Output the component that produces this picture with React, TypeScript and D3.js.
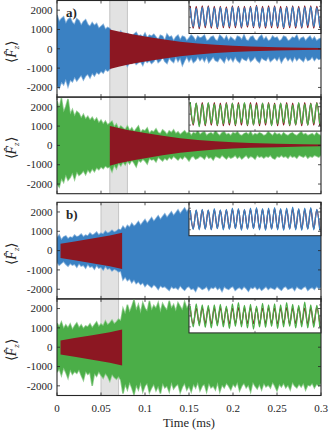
import React from "react";
import * as d3 from "d3";

const W = 331;
const H = 431;

// sampling grid of the noise envelopes (ms), 0.0025 ms apart
const T_NOISE = d3.range(121).map((i) => i * 0.0025);

// panel a) top: blue noise envelope
const A1_HI = [
  1750, 1400, 1550, 1650, 1300, 1500, 1600, 1350, 1250, 1550,
  1450, 1200, 1400, 1500, 1250, 1150, 1350, 1200, 1300, 1050,
  1150, 1250, 1000, 1100, 1050,
  850, 700, 800, 650, 900, 750, 650, 800, 700, 600,
  750, 850, 650, 700, 600, 800, 550, 700, 650, 750,
  600, 450, 700, 650, 400, 750, 600, 650, 400, 600,
  700, 450, 650, 600, 400, 550, 700, 600, 400, 650,
  550, 600, 700, 400, 450, 600, 650, 450, 400, 700,
  600, 450, 650, 400, 600, 500, 400, 650, 600, 450,
  700, 450, 400, 600, 650, 450, 400, 600, 700, 450,
  600, 400, 450, 650, 550, 600, 400, 450, 650, 600,
  400, 450, 600, 550, 700, 400, 550, 600, 400, 550,
  650, 450, 600, 400, 500, 550,
];
const A1_LO = [
  -1900, -2050, -1700, -1850, -1550, -1950, -1600, -1700, -1450, -1650,
  -1500, -1350, -1600, -1400, -1300, -1500, -1250, -1400, -1200, -1300,
  -1150, -1250, -1050, -1150, -1050,
  -900, -700, -850, -750, -650, -800, -700, -900, -650, -750,
  -600, -800, -700, -650, -850, -550, -700, -600, -750, -650,
  -450, -700, -600, -400, -650, -750, -450, -600, -700, -400,
  -650, -450, -850, -600, -400, -650, -450, -700, -600, -400,
  -600, -450, -650, -400, -700, -550, -400, -600, -650, -450,
  -550, -700, -400, -600, -450, -650, -400, -600, -700, -450,
  -550, -600, -400, -650, -550, -400, -600, -700, -450, -550,
  -600, -400, -650, -550, -450, -600, -400, -700, -500, -400,
  -600, -450, -650, -400, -600, -450, -550, -650, -400, -600,
  -550, -400, -600, -450, -550, -500,
];
// panel a) bottom: green noise envelope
const A2_HI = [
  2300, 1900, 2450, 1700, 2000, 2400, 1600, 1850, 1500, 1750,
  1650, 1400, 1600, 1350, 1500, 1300, 1450, 1250, 1400, 1150,
  1300, 1100, 1250, 1050, 1150,
  1250, 950, 1100, 850, 1000, 900, 800, 1000, 750, 900,
  700, 850, 1000, 650, 800, 750, 900, 600, 750, 700,
  850, 650, 600, 800, 700, 550, 750, 650, 800, 600,
  700, 550, 650, 750, 600, 700, 500, 650, 600, 750,
  550, 650, 700, 500, 600, 650, 550, 750, 600, 500,
  650, 700, 550, 600, 500, 650, 600, 700, 550, 500,
  600, 650, 550, 700, 500, 600, 550, 650, 600, 500,
  550, 700, 600, 500, 650, 550, 600, 500, 650, 550,
  500, 600, 650, 550, 500, 600, 700, 550, 600, 500,
  550, 600, 500, 650, 550, 500,
];
const A2_LO = [
  -2000, -2150, -1700, -1900, -1500, -1800, -1650, -1400, -1750, -1350,
  -1550, -1450, -1300, -1500, -1250, -1400, -1200, -1350, -1150, -1250,
  -1100, -1200, -1050, -1150, -1100,
  -1350, -1000, -1200, -900, -1050, -850, -1000, -800, -950, -750,
  -900, -1100, -750, -850, -700, -800, -950, -650, -750, -700,
  -850, -600, -700, -800, -650, -750, -600, -700, -550, -650,
  -750, -600, -700, -550, -650, -800, -600, -550, -700, -650,
  -550, -600, -700, -500, -650, -600, -750, -550, -600, -650,
  -500, -600, -700, -550, -650, -600, -500, -650, -550, -700,
  -600, -500, -650, -550, -600, -700, -500, -600, -550, -650,
  -550, -600, -500, -650, -700, -550, -600, -500, -600, -550,
  -650, -500, -600, -550, -650, -500, -550, -600, -500, -650,
  -550, -600, -500, -550, -600, -500,
];
// panel b) top: blue noise envelope
const B1_HI = [
  650, 800, 550, 700, 750, 600, 700, 650, 800, 700,
  750, 850, 700, 800, 750, 900, 800, 850, 950, 800,
  900, 850, 1000, 900, 950, 1050, 950, 1000, 1100,
  1050, 1250, 1100, 1300, 1200, 1400, 1250, 1350, 1500, 1300,
  1450, 1600, 1400, 1550, 1700, 1500, 1650, 1800, 1600, 1750,
  1900, 1700, 1850, 2000, 1800, 1950, 2100, 1900, 2050, 2200,
  2000, 2150, 2300, 2100, 2250, 2200, 2350, 2150, 2300, 2250,
  2400, 2200, 2300, 2350, 2250, 2400, 2300, 2200, 2350, 2250,
  2300, 2400, 2250, 2350, 2200, 2300, 2400, 2250, 2350, 2300,
  2200, 2350, 2250, 2400, 2300, 2200, 2350, 2250, 2300, 2400,
  2250, 2350, 2300, 2200, 2400, 2250, 2300, 2350, 2250, 2400,
  2300, 2200, 2350, 2250, 2300, 2400, 2250, 2350, 2300, 2200,
  2350, 2300,
];
const B1_LO = [
  -600, -750, -650, -550, -700, -800, -650, -750, -700, -850,
  -650, -800, -750, -900, -700, -850, -800, -950, -750, -900,
  -850, -1000, -800, -950, -900, -1050, -950, -1000, -1100,
  -1050, -1500, -1350, -1550, -1450, -1650, -1500, -1700, -1600, -1750,
  -1650, -1850, -1700, -1800, -1900, -1750, -1850, -2000, -1800, -1900,
  -1850, -1950, -2050, -1850, -1950, -1900, -2000, -1800, -1950, -2050,
  -1900, -1850, -2000, -1950, -2100, -1850, -1900, -2000, -1950, -1850,
  -2050, -1900, -1950, -1850, -2000, -1900, -2100, -1850, -1950, -2000,
  -1900, -1850, -2050, -1950, -1900, -2000, -1850, -1950, -2100, -1900,
  -1950, -1850, -2000, -1900, -2050, -1950, -1850, -2000, -1900, -1950,
  -2000, -1850, -1950, -2050, -1900, -1850, -2000, -1950, -1900, -2050,
  -1850, -1950, -2000, -1900, -1850, -2050, -1950, -1900, -2000, -1850,
  -1950, -1900,
];
// panel b) bottom: green noise envelope
const B2_HI = [
  1250, 1050, 1300, 950, 1150, 1000, 1200, 900, 1100, 1250,
  1000, 1150, 950, 1100, 1050, 1200, 1000, 1150, 1300, 1050,
  1200, 1100, 1350, 1150, 1250, 1400, 1200, 1300, 1450,
  1350, 2000, 1700, 2200, 1800, 2100, 2450, 1900, 2200, 1750,
  2300, 2000, 1850, 2400, 1900, 2150, 2000, 2300, 1800, 2250,
  2050, 1900, 2400, 2000, 2200, 1850, 2300, 2100, 1900, 2350,
  2000, 2200, 1800, 2300, 2100, 2400, 1900, 2150, 2000, 2300,
  1850, 2200, 2050, 2400, 1900, 2100, 2300, 1800, 2200, 2000,
  2350, 1900, 2150, 2000, 2300, 1850, 2200, 2400, 1950, 2100,
  2000, 2300, 1800, 2200, 2050, 2400, 1900, 2100, 2250, 1850,
  2200, 2000, 2350, 1900, 2100, 2300, 1800, 2200, 2000, 2400,
  1950, 2100, 2300, 1850, 2200, 2000, 2350, 1900, 2150, 2000,
  2200, 2100,
];
const B2_LO = [
  -1300, -1100, -1450, -1050, -1300, -1600, -1150, -1400, -1250, -1350,
  -1150, -1450, -1700, -1250, -1400, -1300, -2000, -1350, -1500, -1250,
  -1450, -1600, -1350, -1500, -1750, -1400, -1550, -1650, -1500,
  -1700, -2400, -1900, -2200, -1800, -2100, -2450, -1950, -2200, -1800,
  -2300, -2000, -1850, -2350, -2100, -1900, -2250, -2000, -2400, -1850,
  -2100, -2000, -2300, -1800, -2150, -2000, -1900, -2350, -2050, -1850,
  -2200, -2000, -2300, -1900, -2100, -1800, -2250, -2000, -1900, -2300,
  -1850, -2100, -2000, -2200, -1800, -2300, -1950, -2100, -1850, -2000,
  -2200, -1900, -2050, -1800, -2250, -2000, -1850, -2100, -1950, -2300,
  -1800, -2000, -2150, -1900, -2200, -1850, -2050, -1950, -2100, -1800,
  -2000, -2250, -1900, -2050, -1850, -2100, -1950, -2200, -1800, -2000,
  -2100, -1900, -2050, -1850, -2200, -1950, -2000, -1850, -2100, -1900,
  -2000, -1850,
];

// red (model) envelopes
const RED_A_T = [0.06, 0.07, 0.08, 0.09, 0.1, 0.12, 0.14, 0.16, 0.18, 0.2, 0.22, 0.25, 0.28, 0.3];
const RED_A_HI = [1000, 900, 800, 720, 640, 500, 370, 280, 210, 160, 120, 85, 60, 45];
const RED_A_LO = [-1050, -930, -830, -740, -660, -510, -380, -290, -215, -165, -125, -90, -62, -45];
const RED_B_T = [0.004, 0.02, 0.04, 0.06, 0.074];
const RED_B_HI = [350, 470, 620, 780, 920];
const RED_B_LO = [-380, -500, -650, -810, -950];

// inset oscillations: successive extrema
const IN_A1_MAIN = [0.85, -0.9, 0.8, -0.95, 0.9, -0.85, 0.95, -0.9, 0.85, -1.0, 0.9, -0.85, 0.8, -0.9, 0.95, -0.85, 0.9, -0.95, 0.85, -0.8, 0.9, -0.9, 1.0, -0.95, 0.85, -0.9, 0.9, -0.85, 0.95, -0.9, 0.8, -1.0, 0.9, -0.85, 0.95, -0.9, 0.85, -0.95, 0.9, -0.8, 0.95, -0.9, 0.85, -0.9];
const IN_A1_RED = [1.0, -1.05, 1.0, -1.1, 1.05, -1.0, 1.05, -1.05, 1.0, -1.1, 1.0, -1.0, 0.95, -1.05, 1.05, -1.0, 1.0, -1.05, 1.0, -0.95, 1.0, -1.0, 1.1, -1.05, 1.0, -1.05, 1.05, -1.0, 1.05, -1.05, 1.0, -1.1, 1.0, -1.0, 1.05, -1.05, 1.0, -1.05, 1.05, -1.0, 1.05, -1.05, 1.0, -1.0];
const IN_A2_MAIN = [1.1, -0.9, 1.0, -1.15, 0.9, -0.95, 1.05, -0.85, 0.9, -1.0, 0.85, -0.9, 0.95, -0.85, 1.0, -0.95, 0.9, -0.8, 1.05, -1.0, 0.9, -0.95, 0.85, -0.9, 1.0, -0.85, 0.95, -1.05, 0.9, -0.9, 1.0, -0.8, 0.9, -1.0, 0.85, -0.95, 1.05, -0.9, 0.9, -1.0, 0.95, -0.85, 1.0, -0.9];
const IN_A2_RED = [0.95, -1.0, 1.0, -1.0, 1.05, -1.05, 1.0, -1.0, 1.05, -1.05, 1.0, -1.05, 1.05, -1.0, 1.0, -1.05, 1.05, -1.0, 1.0, -1.05, 1.05, -1.0, 1.05, -1.05, 1.0, -1.0, 1.05, -1.0, 1.0, -1.05, 1.0, -1.0, 1.05, -1.05, 1.0, -1.0, 1.0, -1.05, 1.05, -1.0, 1.0, -1.0, 1.05, -1.05];
const IN_B1_MAIN = [0.8, -0.95, 0.85, -1.0, 0.9, -0.95, 0.85, -1.0, 0.95, -0.9, 0.85, -1.0, 0.9, -0.95, 1.0, -0.9, 0.95, -1.05, 0.9, -0.95, 1.0, -0.9, 1.05, -1.0, 0.95, -1.05, 1.0, -0.95, 1.05, -1.0, 0.95, -1.05, 1.0, -0.95, 1.1, -1.0, 0.95, -1.05, 1.0, -0.95, 1.05, -1.0, 0.9, -1.05];
const IN_B1_RED = [0.8, -0.9, 0.8, -0.9, 0.85, -0.9, 0.8, -0.95, 0.85, -0.85, 0.8, -0.9, 0.85, -0.9, 0.9, -0.85, 0.9, -0.95, 0.85, -0.9, 0.9, -0.85, 0.95, -0.9, 0.9, -0.95, 0.9, -0.9, 0.95, -0.9, 0.9, -0.95, 0.9, -0.9, 0.95, -0.9, 0.9, -0.95, 0.9, -0.9, 0.95, -0.9, 0.85, -0.95];
const IN_B2_MAIN = [0.9, -1.0, 1.1, -0.9, 1.0, -1.05, 0.95, -1.1, 1.0, -0.9, 1.05, -1.0, 0.9, -1.15, 1.1, -0.95, 1.2, -1.0, 0.95, -1.1, 1.05, -1.2, 0.9, -1.0, 1.15, -1.05, 1.0, -0.95, 1.1, -1.15, 1.0, -1.0, 1.2, -0.95, 1.05, -1.1, 0.95, -1.0, 1.25, -1.1, 1.0, -1.05, 0.95, -1.0];
const IN_B2_RED = [0.7, -0.75, 0.7, -0.7, 0.75, -0.7, 0.7, -0.75, 0.7, -0.7, 0.75, -0.7, 0.7, -0.75, 0.7, -0.7, 0.75, -0.75, 0.7, -0.7, 0.75, -0.7, 0.7, -0.75, 0.7, -0.7, 0.75, -0.7, 0.7, -0.75, 0.7, -0.7, 0.75, -0.75, 0.7, -0.7, 0.75, -0.7, 0.7, -0.75, 0.7, -0.7, 0.75, -0.7];

const X_TICKS = [0, 0.05, 0.1, 0.15, 0.2, 0.25, 0.3];
const X_TICK_LABELS = ["0", "0.05", "0.1", "0.15", "0.2", "0.25", "0.3"];
const Y_TICKS = [-2000, -1000, 0, 1000, 2000];
const INSET_Y_TICKS = [-1, 0, 1];

const BLUE = "#3a81c3";
const GREEN = "#4bae48";
const RED = "#8c1722";
const INK = "#262626";
const FONT = "'Liberation Serif', 'Times New Roman', serif";

const LEFT = 57;
const RIGHT = 321;
const PH = 96.6;

const x = d3.scaleLinear().domain([0, 0.3]).range([LEFT, RIGHT]);

type Panel = {
  top: number;
  hi: number[];
  lo: number[];
  color: string;
  redT: number[];
  redHi: number[];
  redLo: number[];
  insetMain: number[];
  insetRed: number[];
  insetH: number;
};

const PANELS: Panel[] = [
  { top: 0.5, hi: A1_HI, lo: A1_LO, color: BLUE, redT: RED_A_T, redHi: RED_A_HI, redLo: RED_A_LO, insetMain: IN_A1_MAIN, insetRed: IN_A1_RED, insetH: 33 },
  { top: 0.5 + PH, hi: A2_HI, lo: A2_LO, color: GREEN, redT: RED_A_T, redHi: RED_A_HI, redLo: RED_A_LO, insetMain: IN_A2_MAIN, insetRed: IN_A2_RED, insetH: 34 },
  { top: 202.3, hi: B1_HI, lo: B1_LO, color: BLUE, redT: RED_B_T, redHi: RED_B_HI, redLo: RED_B_LO, insetMain: IN_B1_MAIN, insetRed: IN_B1_RED, insetH: 33.4 },
  { top: 202.3 + PH, hi: B2_HI, lo: B2_LO, color: GREEN, redT: RED_B_T, redHi: RED_B_HI, redLo: RED_B_LO, insetMain: IN_B2_MAIN, insetRed: IN_B2_RED, insetH: 34 },
];

const GROUPS = [
  { top: 0.5, band: [0.06, 0.08], label: "a)" },
  { top: 202.3, band: [0.05, 0.07], label: "b)" },
];

function PanelView({ p, idx }: { p: Panel; idx: number }) {
  const y = d3.scaleLinear().domain([-2500, 2500]).range([p.top + PH, p.top]);
  const noise = d3
    .area<number>()
    .x((_, i) => x(T_NOISE[i]))
    .y0((_, i) => y(p.lo[i]))
    .y1((d) => y(d))(p.hi) as string;
  const red = d3
    .area<number>()
    .x((_, i) => x(p.redT[i]))
    .y0((_, i) => y(p.redLo[i]))
    .y1((d) => y(d))(p.redHi) as string;
  const edge = d3.line<number>().x((_, i) => x(T_NOISE[i])).y((d) => y(d));
  const light = d3.interpolateRgb(p.color, "#ffffff")(0.4);

  // inset
  const ix0 = x(0.15);
  const ix1 = RIGHT;
  const iy0 = p.top;
  const iy1 = p.top + p.insetH;
  const ixs = d3.scaleLinear().domain([-0.4, p.insetMain.length - 0.6]).range([ix0, ix1]);
  const iys = d3.scaleLinear().domain([-1.55, 1.55]).range([iy1, iy0]);
  const wave = d3
    .line<number>()
    .x((_, i) => ixs(i))
    .y((d) => iys(d))
    .curve(d3.curveMonotoneX);
  const clipId = `clip${idx}`;
  const iclipId = `iclip${idx}`;

  return (
    <g>
      <defs>
        <clipPath id={clipId}>
          <rect x={LEFT} y={p.top} width={RIGHT - LEFT} height={PH} />
        </clipPath>
        <clipPath id={iclipId}>
          <rect x={ix0} y={iy0} width={ix1 - ix0} height={iy1 - iy0} />
        </clipPath>
      </defs>
      <g clipPath={`url(#${clipId})`}>
        <path d={edge(p.hi) as string} fill="none" stroke={light} strokeWidth={1.6} />
        <path d={edge(p.lo) as string} fill="none" stroke={light} strokeWidth={1.6} />
        <path d={noise} fill={p.color} />
        <path d={red} fill={RED} />
      </g>
      {/* inset */}
      <rect x={ix0} y={iy0} width={ix1 - ix0} height={iy1 - iy0} fill="#fff" />
      <g clipPath={`url(#${iclipId})`}>
        <path d={wave(p.insetRed) as string} fill="none" stroke={RED} strokeWidth={1.3} />
        <path d={wave(p.insetMain) as string} fill="none" stroke={p.color} strokeWidth={1.3} />
      </g>
      {INSET_Y_TICKS.map((t) => (
        <g key={`it${t}`} stroke={INK} strokeWidth={0.6}>
          <line x1={ix0} x2={ix0 + 2} y1={iys(t)} y2={iys(t)} />
          <line x1={ix1} x2={ix1 - 2} y1={iys(t)} y2={iys(t)} />
        </g>
      ))}
      <line x1={(ix0 + ix1) / 2} x2={(ix0 + ix1) / 2} y1={iy1} y2={iy1 - 2} stroke={INK} strokeWidth={0.6} />
      <line x1={(ix0 + ix1) / 2} x2={(ix0 + ix1) / 2} y1={iy0} y2={iy0 + 2} stroke={INK} strokeWidth={0.6} />
      <rect x={ix0} y={iy0} width={ix1 - ix0} height={iy1 - iy0} fill="none" stroke={INK} strokeWidth={1} />

      {/* main ticks */}
      {X_TICKS.map((t) => (
        <g key={`xt${t}`} stroke={INK} strokeWidth={0.8}>
          <line x1={x(t)} x2={x(t)} y1={p.top + PH} y2={p.top + PH - 3} />
          <line x1={x(t)} x2={x(t)} y1={p.top} y2={p.top + 3} />
        </g>
      ))}
      {Y_TICKS.map((v) => (
        <g key={`yt${v}`}>
          <line x1={LEFT} x2={LEFT + 3} y1={y(v)} y2={y(v)} stroke={INK} strokeWidth={0.8} />
          <line x1={RIGHT} x2={RIGHT - 3} y1={y(v)} y2={y(v)} stroke={INK} strokeWidth={0.8} />
          <text x={LEFT - 4.5} y={y(v)} dy="0.34em" textAnchor="end" fontSize={11} fontFamily={FONT} fill={INK}>
            {v}
          </text>
        </g>
      ))}
      <rect x={LEFT} y={p.top} width={RIGHT - LEFT} height={PH} fill="none" stroke={INK} strokeWidth={1.1} />
      <text
        transform={`translate(16, ${p.top + PH / 2 + 3}) rotate(-90)`}
        textAnchor="middle"
        fontSize={14}
        fontFamily={FONT}
        fill={INK}
      >
        ⟨<tspan fontStyle="italic">F̂</tspan>
        <tspan fontSize={9} dy={3} fontStyle="italic">z</tspan>
        <tspan dy={-3}>⟩</tspan>
      </text>
    </g>
  );
}

export default function App() {
  return (
    <svg width={W} height={H} style={{ display: "block", position: "absolute", left: 0, top: 0 }}>
      <rect width={W} height={H} fill="#fff" />
      {GROUPS.map((g) => (
        <g key={g.label}>
          <rect x={x(g.band[0])} y={g.top} width={x(g.band[1]) - x(g.band[0])} height={PH * 2} fill="#e2e2e2" />
          <line x1={x(g.band[0])} x2={x(g.band[0])} y1={g.top} y2={g.top + PH * 2} stroke="#c4c4c4" strokeWidth={1} />
          <line x1={x(g.band[1])} x2={x(g.band[1])} y1={g.top} y2={g.top + PH * 2} stroke="#c4c4c4" strokeWidth={1} />
        </g>
      ))}
      {PANELS.map((p, i) => (
        <PanelView key={i} p={p} idx={i} />
      ))}
      {GROUPS.map((g) => (
        <text key={`l${g.label}`} x={66} y={g.top + 16.5} fontSize={13} fontWeight="bold" fontFamily={FONT} fill={INK}>
          {g.label}
        </text>
      ))}
      {X_TICKS.map((t, i) => (
        <text key={`xl${t}`} x={x(t)} y={412} textAnchor="middle" fontSize={11} fontFamily={FONT} fill={INK}>
          {X_TICK_LABELS[i]}
        </text>
      ))}
      <text x={189} y={427} textAnchor="middle" fontSize={12.5} fontFamily={FONT} fill={INK}>
        Time (ms)
      </text>
    </svg>
  );
}
